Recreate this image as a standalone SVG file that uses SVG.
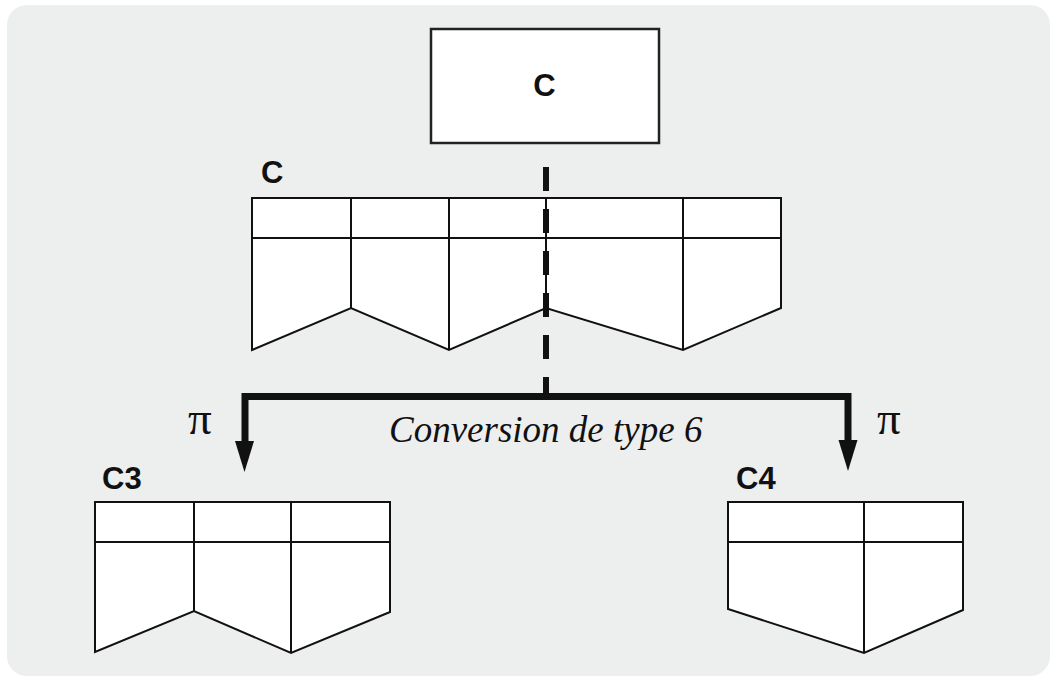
<svg xmlns="http://www.w3.org/2000/svg" width="1056" height="677" viewBox="0 0 1056 677">
<style>
.tbl{fill:#fff;stroke:#111;stroke-width:2;stroke-linejoin:miter}
.ln{fill:none;stroke:#111;stroke-width:2}
.lbl{font-family:"Liberation Sans",Arial,sans-serif;font-weight:bold;font-size:31px;fill:#111}
.pi{font-family:"Liberation Serif","Times New Roman",serif;font-size:47px;fill:#111}
.conv{font-family:"Liberation Serif","Times New Roman",serif;font-style:italic;font-size:37px;fill:#111}
</style>
<rect x="7" y="5" width="1043" height="671" rx="20" ry="20" fill="#edeeee"/>
<g id="nodeTop">
<rect x="431" y="29" width="228" height="114" fill="#fff" stroke="#222" stroke-width="2.5"/>
<text class="lbl" x="544.5" y="96" text-anchor="middle">C</text>
</g>
<g id="tableC">
<text class="lbl" x="261" y="183">C</text>
<path class="tbl" d="M252,198 H781 V308 L683,350 L546,308 L449,350 L351,308 L252,350 Z"/>
<path class="ln" d="M252,238 H781 M351,198 V308 M449,198 V350 M546,198 V308 M683,198 V350"/>
</g>
<g id="tableC3">
<text class="lbl" x="102" y="489">C3</text>
<path class="tbl" d="M95,502 H390 V612 L291,653 L194,611 L95,652 Z"/>
<path class="ln" d="M95,542 H390 M194,502 V611 M291,502 V653"/>
</g>
<g id="tableC4">
<text class="lbl" x="736" y="489">C4</text>
<path class="tbl" d="M728,502 H963 V610 L864,653 L728,609 Z"/>
<path class="ln" d="M728,542 H963 M864,502 V653"/>
</g>
<g id="connectors">
<line x1="546" y1="167" x2="546" y2="396" stroke="#111" stroke-width="6" stroke-dasharray="24 18"/>
<path d="M245,443 V396.5 H848 V441" fill="none" stroke="#111" stroke-width="7" stroke-linejoin="miter"/>
<polygon points="235,441 254,441 244.5,472" fill="#111"/>
<polygon points="838.5,440 857.5,440 848,471" fill="#111"/>
<text class="pi" x="188" y="434">π</text>
<text class="pi" x="877" y="434">π</text>
<text class="conv" x="389" y="442">Conversion de type 6</text>
</g>
</svg>
